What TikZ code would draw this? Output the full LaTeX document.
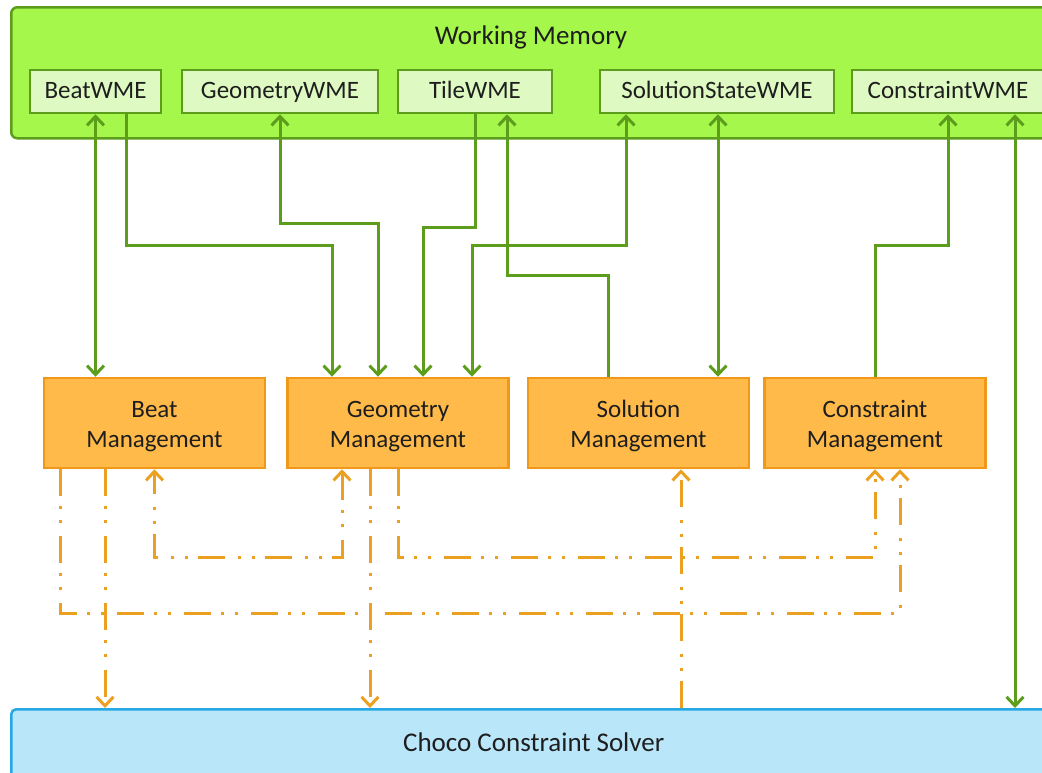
\documentclass[tikz,border=0pt]{standalone}
\usepackage{fontspec}
\setmainfont{Carlito}
\usepackage{tikz}
\usetikzlibrary{arrows.meta, positioning}

\definecolor{memgreen}{RGB}{166,247,76}
\definecolor{wmegreen}{RGB}{222,250,194}
\definecolor{linegreen}{RGB}{92,158,28}
\definecolor{mgmtorange}{RGB}{255,186,74}
\definecolor{mgmtborder}{RGB}{240,152,26}
\definecolor{dashorange}{RGB}{236,160,34}
\definecolor{solverblue}{RGB}{186,230,250}
\definecolor{solverborder}{RGB}{38,168,228}
\definecolor{txt}{RGB}{30,30,30}

\begin{document}
\begin{tikzpicture}[x=1pt, y=-1pt, >={Straight Barb[length=9pt, width=17pt]},
        wm/.style={draw=linegreen, fill=memgreen, line width=2.5pt, rounded corners=6pt, anchor=north west, minimum width=1045pt, minimum height=131pt},
        wme/.style={draw=linegreen, fill=wmegreen, line width=2.5pt, minimum height=43pt, inner sep=0pt, text height=19pt, text depth=6pt, text=txt, font=\fontsize{25}{30}\selectfont},
        mgmt/.style={draw=mgmtborder, fill=mgmtorange, line width=2.5pt, minimum width=221pt, minimum height=90pt, inner sep=0pt, align=center, text height=52pt, text depth=4pt, text=txt, font=\fontsize{25}{30}\selectfont},
        solver/.style={draw=solverborder, fill=solverblue, line width=2.5pt, rounded corners=5pt, anchor=north west, minimum width=1045pt, minimum height=70pt, text height=19pt, text depth=4pt, text=txt, font=\fontsize{27}{32}\selectfont},
        title/.style={text=txt, text height=18pt, text depth=6pt, font=\fontsize{27}{32}\selectfont},
        gline/.style={draw=linegreen, line width=3pt},
        oline/.style={draw=dashorange, line width=3pt, dash pattern=on 27pt off 10pt on 3pt off 11pt on 3pt off 13pt}]
        \useasboundingbox (0,0) rectangle (1042,772);
        \clip (0,0) rectangle (1042,772);

        \node[wm] (mem) at (10,6) {};
        \node[title] (memtitle) at (531,38) {Working Memory};
        \node[wme, minimum width=131pt] (bwme) at (95.5,91.5) {BeatWME};
        \node[wme, minimum width=196pt] (gwme) at (280,91.5) {GeometryWME};
        \node[wme, minimum width=154pt] (twme) at (475,91.5) {TileWME};
        \node[wme, minimum width=234pt] (swme) at (717,91.5) {SolutionStateWME};
        \node[wme, minimum width=192pt] (cwme) at (948,91.5) {ConstraintWME};

        \node[mgmt] (bm) at (154.5,423) {Beat\\Management};
        \node[mgmt] (gm) [right=20pt of bm] {Geometry\\Management};
        \node[mgmt] (sm) [right=17pt of gm] {Solution\\Management};
        \node[mgmt] (cm) [right=13pt of sm] {Constraint\\Management};

        \node[solver] (choco) at (10,708) {Choco Constraint Solver};

        \draw[gline, <->] (bwme.south) -- (bwme.south |- bm.north);
        \draw[gline, ->] ([xshift=30.5pt]bwme.south) -- ++(0,131) -| ([xshift=-66pt]gm.north);
        \draw[gline, <->] (gwme.south) -- ++(0,109) -| ([xshift=-20pt]gm.north);
        \draw[gline, ->] (twme.south) -- ++(0,113) -| ([xshift=25pt]gm.north);
        \draw[gline, <->] ([xshift=-91pt]swme.south) -- ++(0,131) -| ([xshift=74pt]gm.north);
        \draw[gline, ->] ([xshift=-30.5pt]sm.north) -- ++(0,-101) -| ([xshift=32pt]twme.south);
        \draw[gline, <->] ([xshift=1pt]swme.south) -- ([xshift=79.5pt]sm.north);
        \draw[gline, ->] (cm.north) -- ++(0,-131) -| (cwme.south);
        \draw[gline, <->] ([xshift=67pt]cwme.south) -- ([xshift=1005pt]choco.north west);

        \draw[oline, ->] ([xshift=-94.5pt]bm.south) -- ++(0,144) -| ([xshift=25pt]cm.south);
        \draw[oline, ->] ([xshift=-49.5pt]bm.south) -- ([xshift=95pt]choco.north west);
        \draw[oline, <->] ([xshift=-56pt]gm.south) -- ++(0,88) -| (bm.south);
        \draw[oline, ->] ([xshift=-28pt]gm.south) -- ([xshift=360pt]choco.north west);
        \draw[oline, ->] (gm.south) -- ++(0,88) -| (cm.south);
        \draw[oline, ->] ([xshift=671pt]choco.north west) -- ([xshift=42.5pt]sm.south);
\end{tikzpicture}
\end{document}
